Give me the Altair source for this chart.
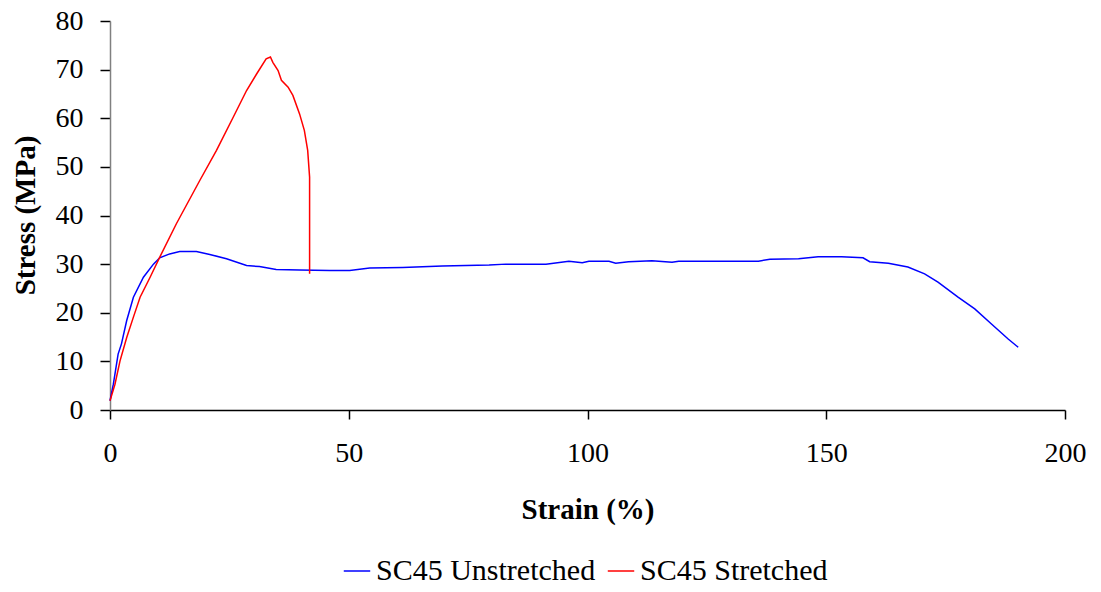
import altair as alt
import pandas as pd

# Tensile test curves for SC45 film
unstretched_strain = [0, 0.7, 1.7, 2.4, 3.5, 4.9, 7.0, 9.1, 10.4, 12.5, 14.6, 18.1, 20.9, 24.4,
                      28.6, 31.3, 34.8, 39.7, 46.0, 50.2, 54.4, 61.3, 69.6, 79.4, 82.9, 91.3,
                      96.1, 98.9, 100.3, 104.5, 105.9, 108.6, 113.5, 117.7, 119.1, 129.5, 135.8,
                      138.2, 144.2, 148.3, 153.2, 157.7, 159.1, 163.0, 167.1, 170.6, 173.4,
                      177.6, 181.1, 184.6, 188.1, 190.2]
unstretched_stress = [1.9, 5.3, 11.5, 13.6, 18.4, 23.2, 27.3, 30.0, 31.3, 32.1, 32.6, 32.6, 32.0,
                      31.1, 29.7, 29.5, 28.9, 28.8, 28.7, 28.7, 29.2, 29.3, 29.6, 29.8, 30.0,
                      30.0, 30.6, 30.3, 30.6, 30.6, 30.2, 30.5, 30.7, 30.4, 30.6, 30.6, 30.6,
                      31.0, 31.1, 31.5, 31.5, 31.3, 30.5, 30.2, 29.4, 28.0, 26.3, 23.2, 20.8,
                      17.7, 14.6, 12.9]

stretched_strain = [0, 1.04, 2.1, 3.5, 4.9, 6.3, 8.4, 10.4, 13.9, 18.8, 22.3, 25.8, 28.6, 30.7,
                    32.7, 33.6, 34.1, 35.2, 35.9, 37.3, 38.3, 39.7, 40.7, 41.4, 41.8, 41.8]
stretched_stress = [1.9, 5.3, 10.1, 14.9, 19.1, 23.2, 27.3, 31.4, 38.3, 47.2, 53.4, 60.2, 65.7,
                    69.1, 72.2, 72.6, 71.5, 69.8, 67.8, 66.4, 64.7, 60.9, 57.5, 53.4, 47.9, 28.0]

series_names = ["SC45 Unstretched", "SC45 Stretched"]
series_colors = ["#0000FF", "#FF0000"]

rows = []
for name, xs, ys in [(series_names[0], unstretched_strain, unstretched_stress),
                     (series_names[1], stretched_strain, stretched_stress)]:
    for i, (x, y) in enumerate(zip(xs, ys)):
        rows.append({"series": name, "strain": x, "stress": y, "idx": i})
df = pd.DataFrame(rows)

FONT = "Liberation Serif"

chart = alt.Chart(df).mark_line(strokeWidth=1.5).encode(
    x=alt.X("strain:Q",
            scale=alt.Scale(domain=[0, 200], nice=False, zero=True),
            axis=alt.Axis(title="Strain (%)", values=[0, 50, 100, 150, 200],
                          grid=False, domainColor="#000000", tickColor="#000000",
                          tickSize=9, labelPadding=20, labelFontSize=28,
                          labelFlush=False, labelOverlap=False,
                          titleFontSize=29, titleFontWeight="bold",
                          titleBaseline="alphabetic", titleY=108)),
    y=alt.Y("stress:Q",
            scale=alt.Scale(domain=[0, 80], nice=False),
            axis=alt.Axis(title="Stress (MPa)", values=[0, 10, 20, 30, 40, 50, 60, 70, 80],
                          grid=False, domainColor="#808080", tickColor="#000000",
                          tickSize=10, labelPadding=17, labelFontSize=28,
                          labelFlush=False, labelOverlap=False,
                          titleFontSize=29, titleFontWeight="bold",
                          titleBaseline="alphabetic", titleAngle=-90,
                          titleX=-76, titleY=194, titleAlign="center")),
    color=alt.Color("series:N",
                    scale=alt.Scale(domain=series_names, range=series_colors),
                    legend=alt.Legend(title=None, orient="none", direction="horizontal",
                                      legendX=232, legendY=535,
                                      symbolType="stroke", symbolSize=700,
                                      symbolStrokeWidth=1.5, labelFontSize=30,
                                      labelLimit=0, labelOffset=4, columnPadding=8,
                                      labelColor="#000000")),
    order=alt.Order("idx:Q"),
).properties(
    width=955,
    height=389,
    autosize=alt.AutoSizeParams(type="none"),
    padding={"left": 110, "top": 21, "right": 36, "bottom": 182},
).configure(
    font=FONT,
).configure_axis(
    labelFont=FONT, titleFont=FONT, labelColor="#000000", titleColor="#000000",
    domainWidth=1.5, tickWidth=1.5,
).configure_legend(
    labelFont=FONT,
).configure_view(
    stroke=None,
)

chart.save("out.html", embed_options={"renderer": "svg", "actions": False})
